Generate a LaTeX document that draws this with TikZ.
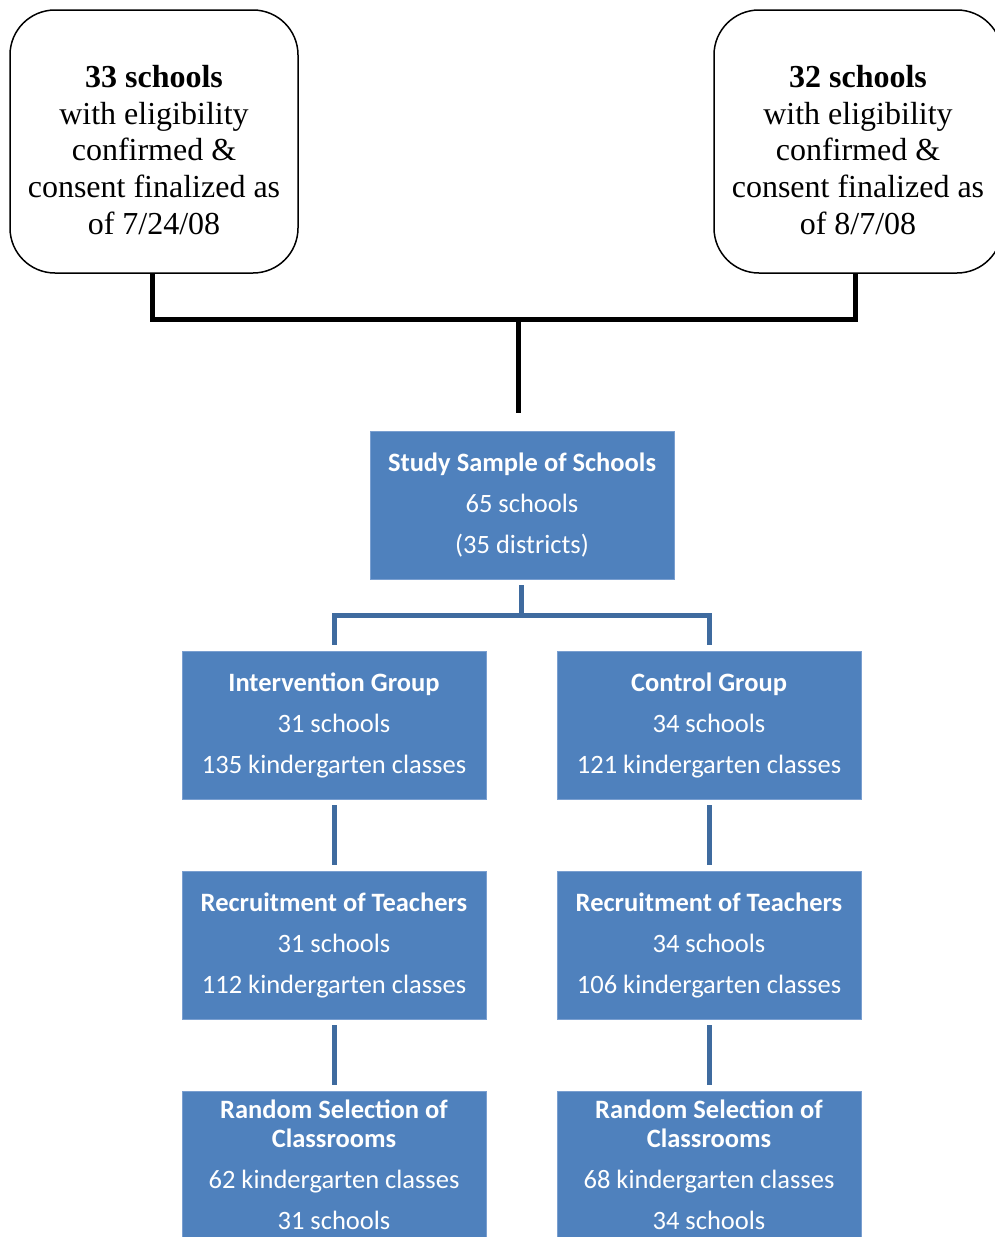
\documentclass[tikz,border=0pt]{standalone}
\usepackage{fontspec}
\setmainfont{Liberation Serif}
\newfontfamily\calfont{Carlito}
\usetikzlibrary{calc}
\definecolor{boxblue}{HTML}{4F81BD}
\definecolor{boxedge}{HTML}{7A9FD0}
\definecolor{lineblue}{HTML}{3F6B9F}
\begin{document}
\begin{tikzpicture}[x=1pt,y=-1pt,
  topbox/.style={draw=black,line width=1.5pt,rounded corners=45pt,minimum width=288pt,minimum height=263pt,inner sep=0pt,fill=white},
  toptext/.style={align=center,inner sep=0pt,font=\fontsize{32}{36.8}\selectfont},
  bluebox/.style={fill=boxblue,draw=boxedge,line width=0.8pt,minimum width=304pt,minimum height=148pt,inner sep=0pt,align=center,text=white,font=\calfont\fontsize{26.5}{41}\selectfont},
  bline/.style={draw=lineblue,line width=5pt},
  kline/.style={draw=black,line width=5pt}]
\useasboundingbox (0,0) rectangle (995,1237);
\clip (0,0) rectangle (995,1237);
% top boxes
\node[topbox] (L) at (154,141.5) {};
\node[toptext] (Lt) at (154,150) {\textbf{33 schools}\\with eligibility\\confirmed \&\\consent finalized as\\of 7/24/08};
\node[topbox] (R) at (858,141.5) {};
\node[toptext] (Rt) at (858,150) {\textbf{32 schools}\\with eligibility\\confirmed \&\\consent finalized as\\of 8/7/08};
% blue boxes
\node[bluebox] (S) at (522,505) {\textbf{Study Sample of Schools}\\65 schools\\(35 districts)};
\node[bluebox] (I) at (334,725) {\textbf{Intervention Group}\\31 schools\\135 kindergarten classes};
\node[bluebox] (C) at (709,725) {\textbf{Control Group}\\34 schools\\121 kindergarten classes};
\node[bluebox] (I2) at (334,945) {\textbf{Recruitment of Teachers}\\31 schools\\112 kindergarten classes};
\node[bluebox] (C2) at (709,945) {\textbf{Recruitment of Teachers}\\34 schools\\106 kindergarten classes};
\node[bluebox] (I3) at (334,1165) {\textbf{Random Selection of}\\[-12pt]\textbf{Classrooms}\\62 kindergarten classes\\31 schools};
\node[bluebox] (C3) at (709,1165) {\textbf{Random Selection of}\\[-12pt]\textbf{Classrooms}\\68 kindergarten classes\\34 schools};
% black connectors
\coordinate (J) at (518,319);
\draw[kline] ([xshift=-2pt]L.south) |- (J) -| ([xshift=-3pt]R.south);
\draw[kline] (J) -- ($(S.north -| J)+(0,-18)$);
% blue connectors
\coordinate (B) at (521,615);
\draw[bline] ([yshift=-6pt]S.south -| B) -- (B);
\draw[bline] ([yshift=6pt]I.north) |- (B) -| ([yshift=6pt]C.north);
\draw[bline] ([yshift=-6pt]I.south) -- ([yshift=6pt]I2.north);
\draw[bline] ([yshift=-6pt]C.south) -- ([yshift=6pt]C2.north);
\draw[bline] ([yshift=-6pt]I2.south) -- ([yshift=6pt]I3.north);
\draw[bline] ([yshift=-6pt]C2.south) -- ([yshift=6pt]C3.north);
\end{tikzpicture}
\end{document}
